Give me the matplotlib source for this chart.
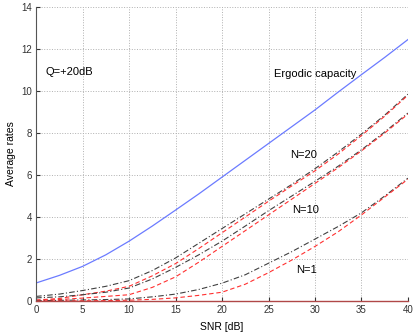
import matplotlib
matplotlib.use("Agg")
import matplotlib.pyplot as plt

plt.rcParams['font.family'] = ['Liberation Sans', 'DejaVu Sans']

snr = [0, 2.5, 5, 7.5, 10, 12.5, 15, 17.5, 20, 22.5, 25, 27.5, 30, 32.5, 35, 37.5, 40]

ergodic = [0.86, 1.22, 1.65, 2.2, 2.85, 3.57, 4.33, 5.1, 5.9, 6.7, 7.5, 8.3, 9.1, 9.95, 10.78, 11.6, 12.45]

# dash-dot (black) and dashed (red) curves for each N
n20_black = [0.22, 0.33, 0.5, 0.7, 0.97, 1.45, 2.05, 2.75, 3.45, 4.15, 4.85, 5.55, 6.3, 7.1, 7.95, 8.85, 9.85]
n20_red = [0.05, 0.12, 0.3, 0.47, 0.7, 1.2, 1.78, 2.5, 3.25, 4.0, 4.75, 5.48, 6.2, 7.0, 7.88, 8.8, 9.8]
n10_black = [0.15, 0.2, 0.3, 0.42, 0.62, 1.05, 1.6, 2.2, 2.85, 3.57, 4.3, 5.0, 5.7, 6.42, 7.2, 8.05, 8.95]
n10_red = [0.03, 0.07, 0.14, 0.22, 0.3, 0.65, 1.15, 1.85, 2.6, 3.35, 4.1, 4.85, 5.6, 6.35, 7.15, 8.0, 8.9]
n1_black = [0.02, 0.03, 0.05, 0.07, 0.1, 0.2, 0.33, 0.55, 0.85, 1.25, 1.8, 2.35, 2.95, 3.55, 4.2, 5.0, 5.85]
n1_red = [0.0, 0.0, 0.01, 0.02, 0.04, 0.08, 0.15, 0.27, 0.42, 0.8, 1.35, 1.95, 2.6, 3.3, 4.1, 4.95, 5.8]

fig = plt.figure(figsize=(4.15, 3.33), dpi=100)
ax = fig.add_axes([0.087, 0.096, 0.896, 0.883])

ax.plot(snr, ergodic, color="#6b7bff", lw=0.9)
for black, red in [(n20_black, n20_red), (n10_black, n10_red), (n1_black, n1_red)]:
    ax.plot(snr, black, color="#404040", lw=0.8, ls="-.", dashes=(5, 2, 1, 2))
    ax.plot(snr, red, color="#ff3030", lw=0.8, ls="--", dashes=(4, 2.5))

ax.set_xlim(0, 40)
ax.set_ylim(0, 14)
ax.set_xticks(range(0, 41, 5))
ax.set_yticks(range(0, 15, 2))
ax.grid(True, ls=":", color="#b0b0b0", lw=0.7)
ax.tick_params(direction="in", labelsize=7, length=3, colors="#333333", pad=3)
ax.spines["top"].set_visible(False)
ax.spines["right"].set_visible(False)
ax.spines["left"].set_color("#555555")
ax.spines["bottom"].set_color("#b04848")
ax.spines["bottom"].set_linewidth(1.0)

ax.set_xlabel("SNR [dB]", fontsize=7.5, labelpad=5)
ax.set_ylabel("Average rates", fontsize=7.5, labelpad=4)

ax.text(1.0, 10.9, "Q=+20dB", fontsize=8, va="center")
ax.text(25.6, 10.8, "Ergodic capacity", fontsize=8, va="center")
ax.text(27.3, 6.95, "N=20", fontsize=8, va="center")
ax.text(27.5, 4.35, "N=10", fontsize=8, va="center")
ax.text(28.0, 1.5, "N=1", fontsize=8, va="center")

fig.savefig("out.png", dpi=100)
